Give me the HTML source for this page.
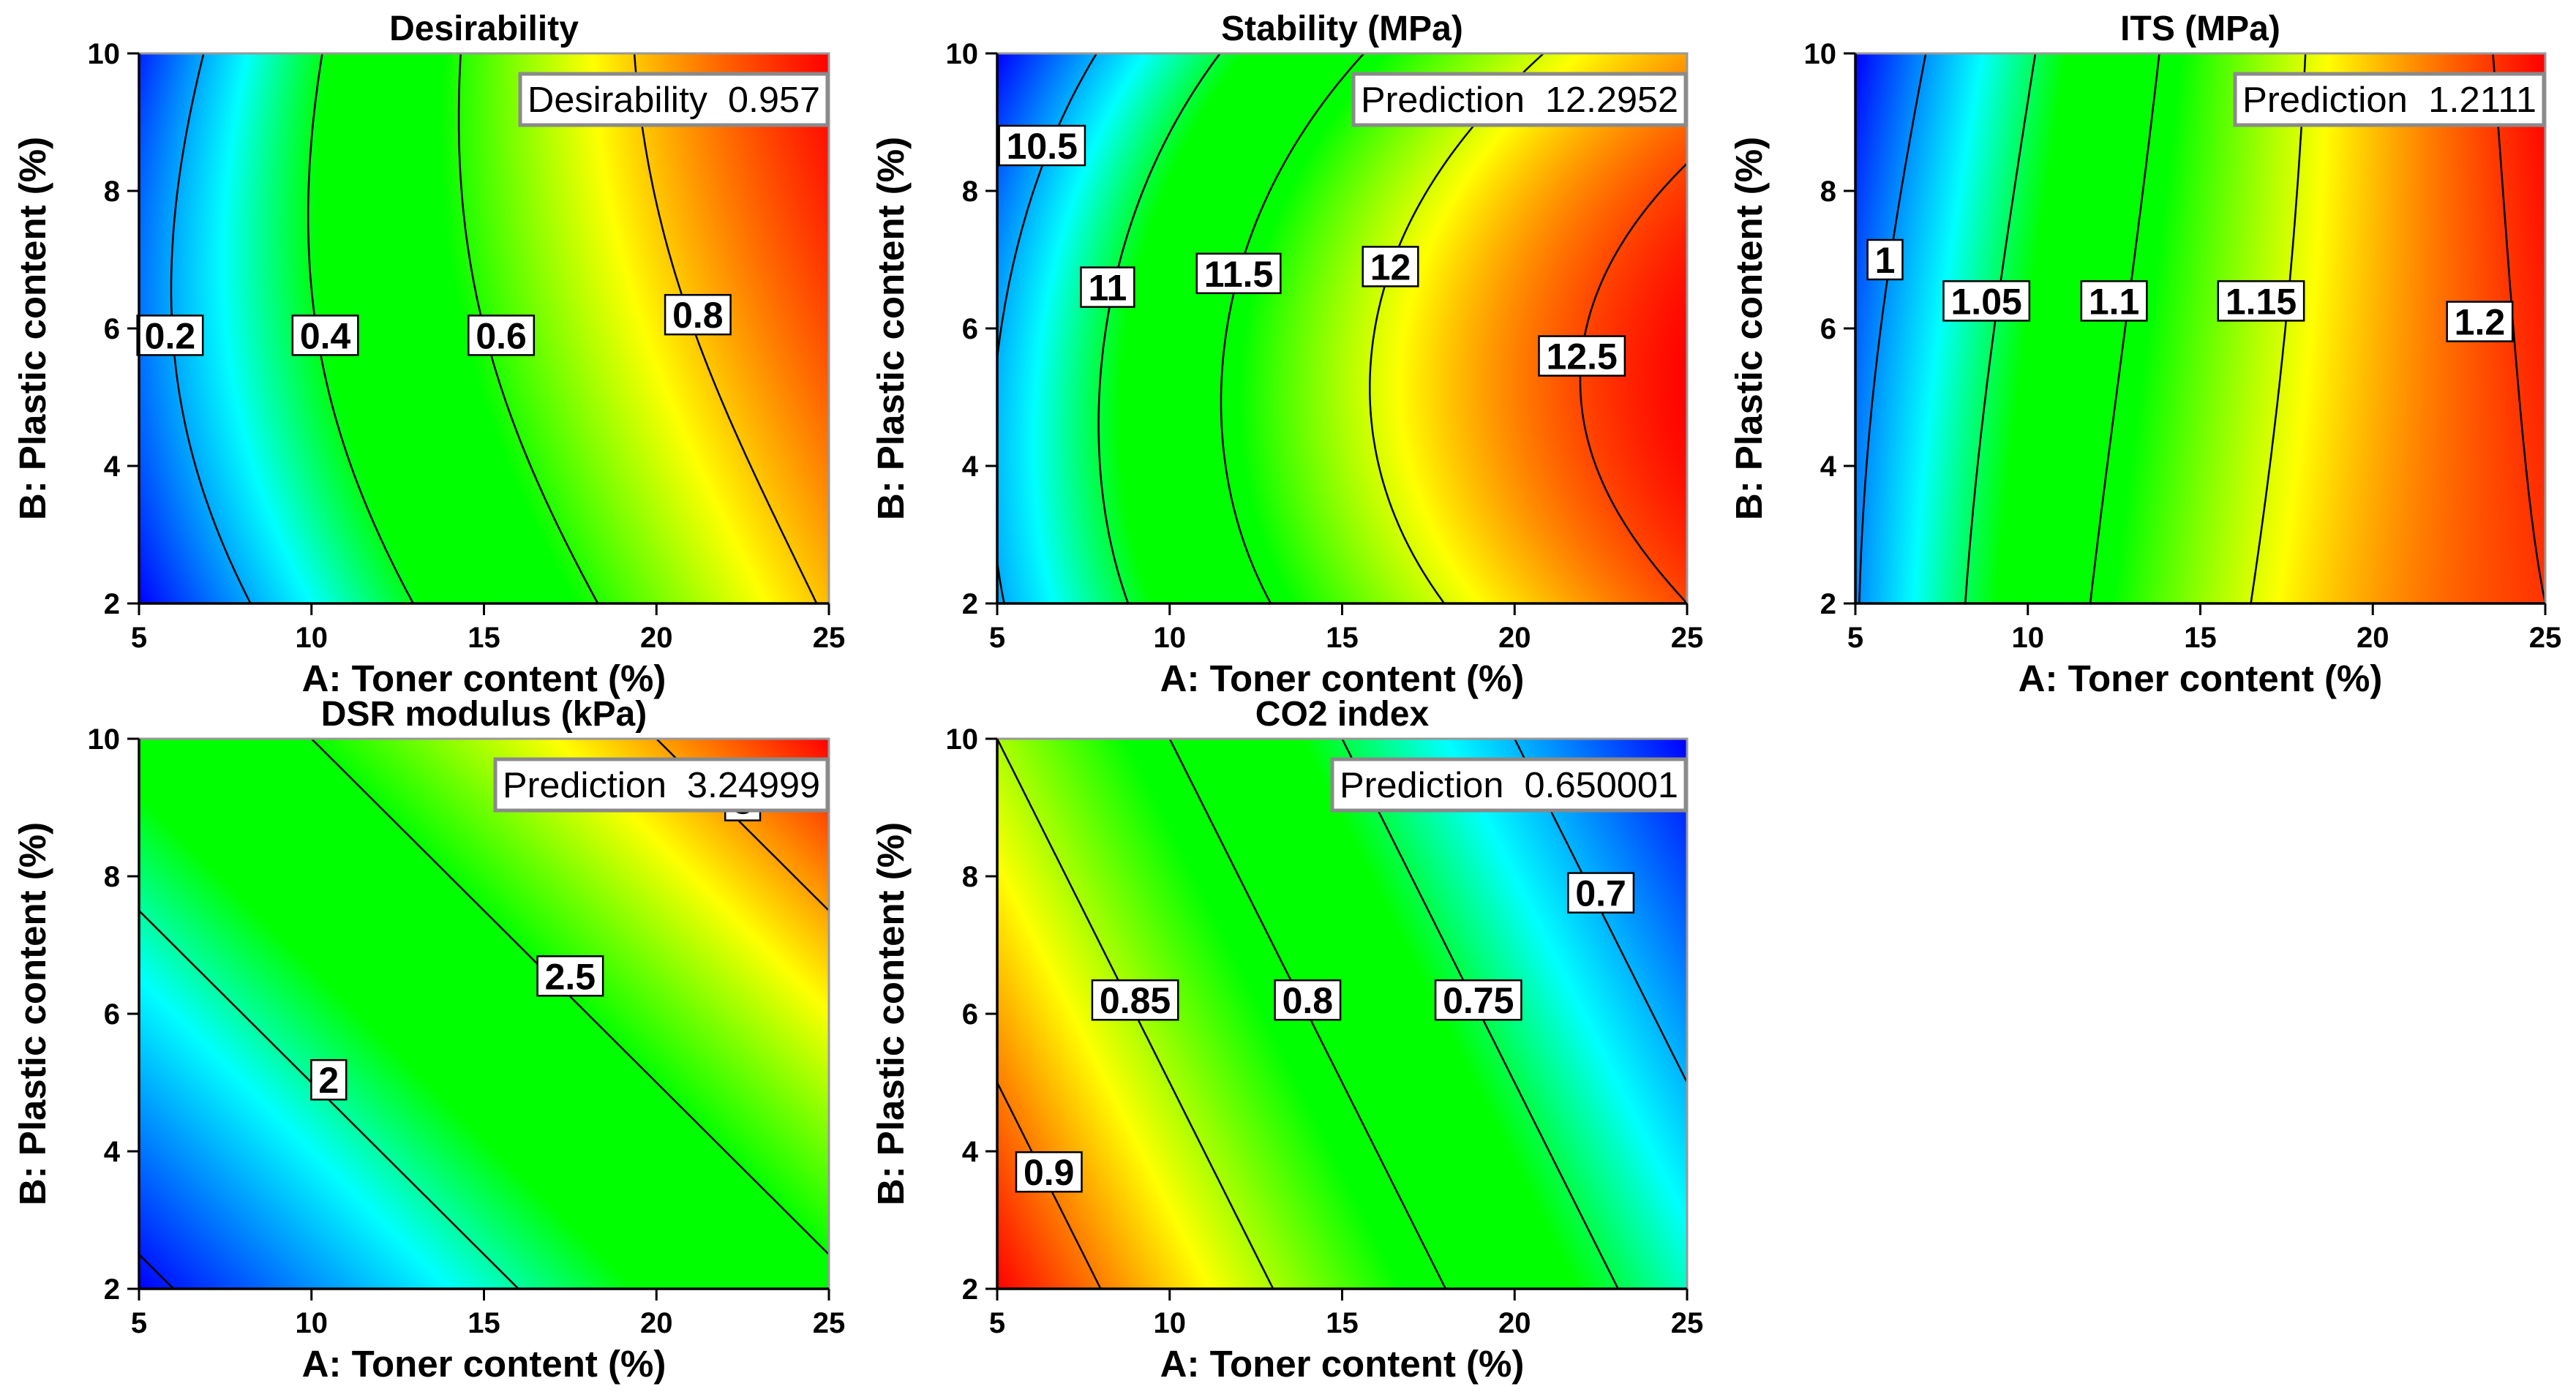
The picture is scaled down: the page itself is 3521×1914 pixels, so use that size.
<!DOCTYPE html>
<html><head><meta charset="utf-8">
<style>
html,body{margin:0;padding:0;background:#fff;}
#wrap{position:relative;width:3521px;height:1914px;overflow:hidden;background:#fff;}
canvas{position:absolute;}
svg{position:absolute;left:0;top:0;}
text{font-family:"Liberation Sans",sans-serif;}
</style></head>
<body>
<div id="wrap">
<svg id="ov" width="3521" height="1914"></svg>
</div>
<script>
// ---- data ----
const A_TICKS=[5,10,15,20,25];
const B_TICKS=[2,4,6,8,10];
const A_GRID=[5,15,25];
const B_GRID=[2,6,10];
// rows: B=2, B=6, B=10 ; cols: A=5,15,25
const desirValues=[[0.05,0.48,0.81],[0.15,0.60,0.90],[0.08,0.63,0.957]];
const stabValues=[[10.47,11.72,12.50],[10.48,11.90,12.65],[10.05,11.43,12.30]];
const itsValues=[[0.998,1.136,1.200],[0.988,1.125,1.205],[0.965,1.115,1.2111]];
const dsrValues=[[1.45,1.95,2.45],[1.85,2.35,2.85],[2.25,2.75,3.25]];
const co2Values=[[0.93,0.83,0.73],[0.89,0.79,0.69],[0.85,0.75,0.65]];
const desirLevels=[0.2,0.4,0.6,0.8];
const stabLevels=[10.5,11,11.5,12,12.5];
const itsLevels=[1,1.05,1.1,1.15,1.2];
const dsrLevels=[1.5,2,2.5,3];
const co2Levels=[0.7,0.75,0.8,0.85,0.9];
const desirLabels=[[0.2,5.9,5.9],[0.4,10.4,5.9],[0.6,15.5,5.9],[0.8,21.2,6.2]];
const stabLabels=[[10.5,6.3,8.66],[11,8.2,6.6],[11.5,12.0,6.8],[12,16.4,6.9],[12.5,21.95,5.6]];
const itsLabels=[[1,5.86,7.0],[1.05,8.8,6.4],[1.1,12.5,6.4],[1.15,16.76,6.4],[1.2,23.1,6.1]];
const dsrLabels=[[2,10.5,5.04],[2.5,17.5,6.55],[3,22.5,9.1]];
const co2Labels=[[0.9,6.5,3.7],[0.85,9.0,6.2],[0.8,14.0,6.2],[0.75,18.95,6.2],[0.7,22.5,7.76]];

const panels=[
 {key:'desirability',title:'Desirability',vals:desirValues,levels:desirLevels,labels:desirLabels,pred:'Desirability  0.957',x:190,y:73,pw:422},
 {key:'stability',title:'Stability (MPa)',vals:stabValues,levels:stabLevels,labels:stabLabels,pred:'Prediction  12.2952',x:1363,y:73,pw:456},
 {key:'its',title:'ITS (MPa)',vals:itsValues,levels:itsLevels,labels:itsLabels,pred:'Prediction  1.2111',x:2536,y:73,pw:424},
 {key:'dsr',title:'DSR modulus (kPa)',vals:dsrValues,levels:dsrLevels,labels:dsrLabels,pred:'Prediction  3.24999',x:190,y:1010,pw:456},
 {key:'co2',title:'CO2 index',vals:co2Values,levels:co2Levels,labels:co2Labels,pred:'Prediction  0.650001',x:1363,y:1010,pw:485}
];
const W=943,H=752;
const NS='http://www.w3.org/2000/svg';
const svg=document.getElementById('ov');
const wrap=document.getElementById('wrap');
function mk(tag,attrs,parent){const e=document.createElementNS(NS,tag);for(const k in attrs)e.setAttribute(k,attrs[k]);(parent||svg).appendChild(e);return e;}
function lag(g,t){const[a,b,c]=g;return[(t-b)*(t-c)/((a-b)*(a-c)),(t-a)*(t-c)/((b-a)*(b-c)),(t-a)*(t-b)/((c-a)*(c-b))];}
function evalF(vals,A,B){const la=lag(A_GRID,A),lb=lag(B_GRID,B);let s=0;for(let i=0;i<3;i++)for(let j=0;j<3;j++)s+=lb[i]*la[j]*vals[i][j];return s;}
const stops=[[0,[0,0,255]],[0.25,[0,255,255]],[0.4,[0,255,0]],[0.58,[0,255,0]],[0.78,[255,255,0]],[1,[255,0,0]]];
function cmap(t){t=Math.max(0,Math.min(1,t));for(let i=1;i<stops.length;i++){if(t<=stops[i][0]){const[t0,c0]=stops[i-1],[t1,c1]=stops[i];const f=(t-t0)/(t1-t0);return c0.map((v,k)=>Math.round(v+(c1[k]-v)*f));}}return[255,0,0];}

panels.forEach(p=>{
  const xS=A=>p.x+(A-5)/20*W, yS=B=>p.y+H-(B-2)/8*H;
  const cv=document.createElement('canvas');cv.width=W;cv.height=H;cv.style.left=p.x+'px';cv.style.top=p.y+'px';
  
  
  wrap.insertBefore(cv,svg);
  let mn=Infinity,mx=-Infinity;
  for(let i=0;i<=40;i++)for(let j=0;j<=40;j++){const v=evalF(p.vals,5+20*i/40,2+8*j/40);mn=Math.min(mn,v);mx=Math.max(mx,v);}
  const ctx=cv.getContext('2d');const img=ctx.createImageData(W,H);
  for(let py=0;py<H;py++){const B=10-8*(py+0.5)/H;for(let px=0;px<W;px++){const A=5+20*(px+0.5)/W;const c=cmap((evalF(p.vals,A,B)-mn)/(mx-mn));const o=(py*W+px)*4;img.data[o]=c[0];img.data[o+1]=c[1];img.data[o+2]=c[2];img.data[o+3]=255;}}
  ctx.putImageData(img,0,0);
  const g=mk('g',{});
  
  
  const nx=236,ny=188;const grid=[];
  for(let j=0;j<=ny;j++){grid.push([]);for(let i=0;i<=nx;i++)grid[j].push(evalF(p.vals,5+20*i/nx,2+8*j/ny));}
  const gx=i=>p.x+i/nx*W, gy=j=>p.y+H-j/ny*H;
  p.levels.forEach(L=>{
    let d='';
    for(let j=0;j<ny;j++)for(let i=0;i<nx;i++){
      const v=[grid[j][i],grid[j][i+1],grid[j+1][i+1],grid[j+1][i]];
      const c=[[i,j],[i+1,j],[i+1,j+1],[i,j+1]];
      const pts=[];
      for(let e=0;e<4;e++){const a=v[e],b=v[(e+1)%4];if((a<L)!==(b<L)){const f=(L-a)/(b-a);const p0=c[e],p1=c[(e+1)%4];pts.push([gx(p0[0]+(p1[0]-p0[0])*f),gy(p0[1]+(p1[1]-p0[1])*f)]);}}
      if(pts.length>=2)d+='M'+pts[0][0].toFixed(1)+' '+pts[0][1].toFixed(1)+'L'+pts[1][0].toFixed(1)+' '+pts[1][1].toFixed(1);
      if(pts.length===4)d+='M'+pts[2][0].toFixed(1)+' '+pts[2][1].toFixed(1)+'L'+pts[3][0].toFixed(1)+' '+pts[3][1].toFixed(1);
    }
    const path=mk('path',{d:d,stroke:'#000','stroke-width':2.5,fill:'none'},g);
    
    
  });
  p.labels.forEach(lb=>{
    const cx=xS(lb[1]),cy=yS(lb[2]);
    const t=mk('text',{x:cx,y:cy+18,'text-anchor':'middle','font-size':50,'font-weight':'bold',fill:'#000'},g);
    t.textContent=String(lb[0]);
    const tw=t.getComputedTextLength();
    const r=mk('rect',{x:cx-tw/2-10,y:cy-27,width:tw+20,height:54,fill:'#fff',stroke:'#000','stroke-width':2.5},g);
    
    
    g.insertBefore(r,t);
    
    
  });
  const fr=mk('path',{d:`M${p.x} ${p.y}H${p.x+W}V${p.y+H}`,stroke:'#999','stroke-width':3,fill:'none'},g);
  
  
  const ax=mk('path',{d:`M${p.x} ${p.y}V${p.y+H}H${p.x+W}`,stroke:'#000','stroke-width':3.5,fill:'none'},g);
  
  
  A_TICKS.forEach(a=>{
    mk('line',{x1:xS(a),x2:xS(a),y1:p.y+H,y2:p.y+H+16,stroke:'#000','stroke-width':3},g);
    const t=mk('text',{x:xS(a),y:p.y+H+60,'text-anchor':'middle','font-size':40,'font-weight':'bold'},g);
    t.textContent=a;
    
    
  });
  B_TICKS.forEach(b=>{
    mk('line',{x1:p.x-16,x2:p.x,y1:yS(b),y2:yS(b),stroke:'#000','stroke-width':3},g);
    const t=mk('text',{x:p.x-26,y:yS(b)+14,'text-anchor':'end','font-size':40,'font-weight':'bold'},g);
    t.textContent=b;
    
    
  });
  const ti=mk('text',{x:p.x+W/2,y:p.y-18,'text-anchor':'middle','font-size':48,'font-weight':'bold'},g);
  ti.textContent=p.title;
  
  
  const xt=mk('text',{x:p.x+W/2,y:p.y+H+120,'text-anchor':'middle','font-size':51,'font-weight':'bold'},g);
  xt.textContent='A: Toner content (%)';
  
  
  const yx=p.x-128,yy=p.y+H/2;
  const yt=mk('text',{x:yx,y:yy,'text-anchor':'middle','font-size':51,'font-weight':'bold',transform:`rotate(-90 ${yx} ${yy})`},g);
  yt.textContent='B: Plastic content (%)';
  
  
  const bx=p.x+W-p.pw, by=p.y+28;
  const pr=mk('rect',{x:bx,y:by,width:p.pw-2,height:70,fill:'#fff',stroke:'#8a8a8a','stroke-width':5},g);
  
  
  const pt=mk('text',{x:bx+10,y:by+52,'font-size':49,fill:'#000'},g);
  pt.setAttribute('style','white-space:pre');
  pt.textContent=p.pred;
  
  
  const tw=pt.getComputedTextLength();
  if(Math.abs(tw-(p.pw-22))>4){pt.setAttribute('textLength',p.pw-22);pt.setAttribute('lengthAdjust','spacingAndGlyphs');}
});
</script>
</body></html>
